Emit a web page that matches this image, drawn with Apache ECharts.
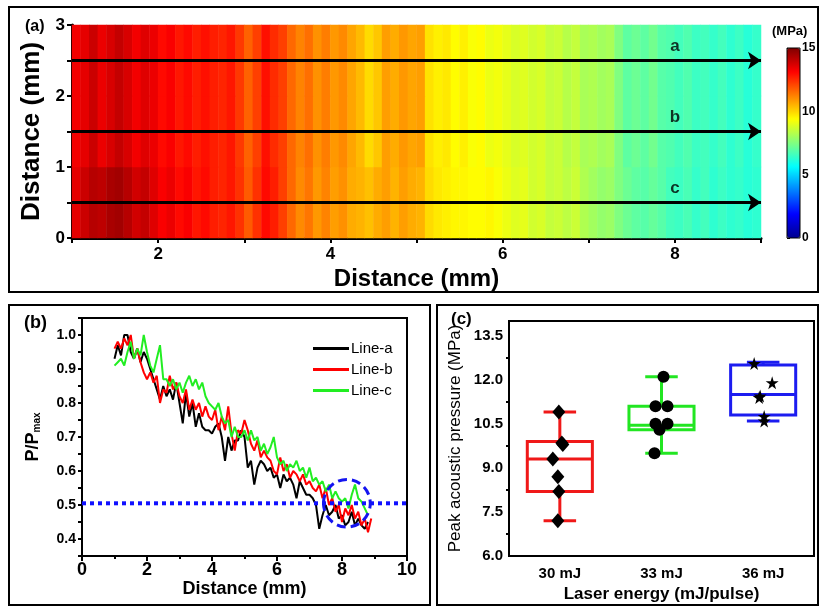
<!DOCTYPE html>
<html>
<head>
<meta charset="utf-8">
<script src="https://cdn.jsdelivr.net/npm/echarts@6/dist/echarts.min.js"></script>
<style>
html, body { margin: 0; padding: 0; background: #fff; }
#chart { width: 820px; height: 607px; }
</style>
</head>
<body>
<div id="chart"></div>
<script>
// (a) pressure map, MPa, one value per 0.1 mm column from 1.0 to 9.0 mm
var heatRows = ['0-1 mm', '1-2 mm', '2-3 mm'];
var heatUpper = [
    13.3, 13.5, 13.9, 13.4, 13.7, 14.0, 13.7, 13.3, 13.6, 13.4,
    13.0, 13.2, 12.8, 13.0, 12.7, 12.9, 12.7, 12.6, 12.8, 12.3,
    11.7, 12.2, 12.9, 12.5, 12.2, 11.6, 11.2, 11.5, 11.0, 11.3,
    10.9, 11.1, 10.7, 10.4, 9.9, 10.2, 10.8, 10.6, 10.9, 10.7,
    10.8, 9.8, 9.6, 9.7, 9.4, 9.6, 9.3, 9.4, 9.1, 9.2,
    9.0, 8.8, 8.9, 8.7, 8.8, 8.5, 8.6, 8.3, 8.5, 8.1,
    8.2, 8.0, 8.1, 7.5, 7.0, 7.2, 7.0, 7.3, 6.9, 6.8,
    6.6, 6.8, 6.5, 6.6, 6.4, 6.6, 6.3, 6.5, 6.2, 6.4
];
var heatLower = [
    13.5, 13.9, 14.2, 14.1, 14.4, 14.5, 14.2, 13.8, 14.0, 13.6,
    13.2, 13.4, 13.0, 13.2, 12.8, 13.0, 12.7, 12.6, 12.8, 12.4,
    11.8, 12.4, 13.0, 12.7, 12.2, 11.6, 11.1, 11.4, 10.9, 11.2,
    10.8, 11.0, 10.6, 10.5, 10.3, 10.6, 10.8, 10.5, 10.8, 10.6,
    10.5, 9.9, 9.7, 9.6, 9.5, 9.5, 9.4, 9.4, 9.5, 9.3,
    9.1, 8.9, 9.0, 8.7, 8.8, 8.5, 8.6, 8.4, 8.6, 8.2,
    8.0, 7.8, 7.9, 7.5, 7.2, 7.0, 6.9, 7.1, 6.9, 6.6,
    6.5, 6.7, 6.4, 6.6, 6.3, 6.5, 6.3, 6.4, 6.2, 6.3
];
var arrowRows = [2.5, 1.5, 0.5];
var arrowNames = ['a', 'b', 'c'];
var arrowLabelX = 8;

// (b) normalised pressure along the three lines
var lineDist = [
    1.0, 1.1, 1.2, 1.3, 1.4, 1.5, 1.6, 1.7, 1.8, 1.9,
    2.0, 2.1, 2.2, 2.3, 2.4, 2.5, 2.6, 2.7, 2.8, 2.9,
    3.0, 3.1, 3.2, 3.3, 3.4, 3.5, 3.6, 3.7, 3.8, 3.9,
    4.0, 4.1, 4.2, 4.3, 4.4, 4.5, 4.6, 4.7, 4.8, 4.9,
    5.0, 5.1, 5.2, 5.3, 5.4, 5.5, 5.6, 5.7, 5.8, 5.9,
    6.0, 6.1, 6.2, 6.3, 6.4, 6.5, 6.6, 6.7, 6.8, 6.9,
    7.0, 7.1, 7.2, 7.3, 7.4, 7.5, 7.6, 7.7, 7.8, 7.9,
    8.0, 8.1, 8.2, 8.3, 8.4, 8.5, 8.6, 8.7, 8.8, 8.9
];
var lineA = [
    0.93, 0.97, 0.94, 1.00, 1.00, 0.95, 0.93, 0.96, 0.92, 0.95,
    0.93, 0.90, 0.87, 0.84, 0.81, 0.85, 0.82, 0.84, 0.81, 0.86,
    0.80, 0.74, 0.83, 0.76, 0.80, 0.73, 0.77, 0.73, 0.72, 0.72,
    0.71, 0.73, 0.74, 0.70, 0.63, 0.70, 0.66, 0.69, 0.69, 0.72,
    0.70, 0.61, 0.63, 0.56, 0.61, 0.63, 0.62, 0.60, 0.61, 0.58,
    0.59, 0.55, 0.59, 0.57, 0.58, 0.56, 0.52, 0.57, 0.55, 0.53,
    0.53, 0.52, 0.50, 0.43, 0.47, 0.50, 0.47, 0.48, 0.50, 0.46,
    0.47, 0.44, 0.45, 0.48, 0.44, 0.46, 0.44, 0.43, 0.45
];
var lineB = [
    0.96, 0.98, 0.96, 0.99, 0.97, 1.00, 0.93, 0.96, 0.92, 0.89,
    0.87, 0.89, 0.86, 0.88, 0.80, 0.84, 0.83, 0.88, 0.84, 0.86,
    0.82, 0.80, 0.84, 0.78, 0.81, 0.78, 0.80, 0.76, 0.79, 0.76,
    0.75, 0.78, 0.72, 0.76, 0.72, 0.79, 0.71, 0.66, 0.72, 0.71,
    0.75, 0.72, 0.68, 0.66, 0.69, 0.64, 0.66, 0.64, 0.63, 0.60,
    0.59, 0.64, 0.60, 0.62, 0.58, 0.60, 0.59, 0.57, 0.59, 0.56,
    0.57, 0.55, 0.54, 0.56, 0.52, 0.55, 0.50, 0.52, 0.48, 0.50,
    0.45, 0.49, 0.47, 0.50, 0.46, 0.48, 0.44, 0.46, 0.42, 0.46
];
var lineC = [
    0.91, 0.92, 0.93, 0.91, 0.95, 0.98, 0.93, 0.96, 0.94, 1.00,
    0.95, 0.91, 0.89, 0.93, 0.97, 0.87, 0.87, 0.85, 0.87, 0.84,
    0.86, 0.83, 0.86, 0.88, 0.85, 0.87, 0.84, 0.86, 0.82, 0.80,
    0.79, 0.78, 0.80, 0.76, 0.74, 0.75, 0.70, 0.73, 0.70, 0.70,
    0.72, 0.69, 0.72, 0.69, 0.70, 0.66, 0.68, 0.65, 0.67, 0.70,
    0.64, 0.62, 0.63, 0.60, 0.62, 0.61, 0.63, 0.60, 0.61, 0.58,
    0.61, 0.57, 0.58, 0.56, 0.57, 0.54, 0.56, 0.52, 0.54, 0.52,
    0.51, 0.52, 0.49, 0.53, 0.56, 0.52, 0.51, 0.49, 0.47
];
var halfLevel = 0.505;
var circledX = [7.43, 8.87];
var circledY = [0.435, 0.575];

// (c) peak pressure per laser energy: [min, Q1, median, Q3, max] and raw points
var energies = ['30 mJ', '33 mJ', '36 mJ'];
var boxStats = [
    [7.2, 8.2, 9.3, 9.9, 10.9],
    [9.5, 10.3, 10.45, 11.1, 12.1],
    [10.6, 10.8, 11.5, 12.5, 12.6]
];
var pts30 = [10.9, 9.85, 9.8, 9.3, 8.7, 8.2, 7.2];
var pts33 = [12.1, 11.1, 11.1, 10.5, 10.5, 10.3, 9.5];
var pts36 = [12.55, 11.9, 11.45, 11.4, 10.75, 10.6];

// styling
var FONT = "'Liberation Sans', Arial, sans-serif";
var jet = ['#00008f', '#0000ff', '#0080ff', '#00ffff', '#80ff80', '#ffff00', '#ff8000', '#ff0000', '#800000'];
var boxColors = ['#f01818', '#22e622', '#1c1cf0'];
var jit30 = [-1, 2, 3, -7, -2, -1, -2];
var jit33 = [2, -6, 6, -6, 6, -2, -7];
var jit36 = [-9, 9, -3, -4, 1, 1];
var starPath = 'path://M50,0 L61,35 L98,35 L68,57 L79,91 L50,70 L21,91 L32,57 L2,35 L39,35 Z';

var heatData = [];
heatRows.forEach(function (r, ri) {
    var prof = ri === 0 ? heatLower : heatUpper;
    prof.forEach(function (v, i) { heatData.push([i, ri, v]); });
});

function pairs(xs, ys) {
    return ys.map(function (y, i) { return [xs[i], y]; });
}
function pointData(ci, vals, jit) {
    return vals.map(function (v, i) { return { value: [ci, v], symbolOffset: [jit[i], 0] }; });
}

function drawBox(params, api) {
    var i = api.value(0);
    var c = api.coord([i, api.value(3)]);
    var yMin = api.coord([i, api.value(1)])[1];
    var yQ1 = api.coord([i, api.value(2)])[1];
    var yQ3 = api.coord([i, api.value(4)])[1];
    var yMax = api.coord([i, api.value(5)])[1];
    var bw = api.size([1, 0])[0] * 0.64;
    var cap = bw * 0.5;
    var x = c[0];
    var st = { stroke: boxColors[params.dataIndex], lineWidth: 3, fill: 'none' };
    return {
        type: 'group',
        children: [
            { type: 'rect', shape: { x: x - bw / 2, y: yQ3, width: bw, height: yQ1 - yQ3 }, style: st },
            { type: 'line', shape: { x1: x - bw / 2, y1: c[1], x2: x + bw / 2, y2: c[1] }, style: st },
            { type: 'line', shape: { x1: x, y1: yQ3, x2: x, y2: yMax }, style: st },
            { type: 'line', shape: { x1: x, y1: yQ1, x2: x, y2: yMin }, style: st },
            { type: 'line', shape: { x1: x - cap / 2, y1: yMax, x2: x + cap / 2, y2: yMax }, style: st },
            { type: 'line', shape: { x1: x - cap / 2, y1: yMin, x2: x + cap / 2, y2: yMin }, style: st }
        ]
    };
}

function drawRing(params, api) {
    var p0 = api.coord([api.value(0), api.value(2)]);
    var p1 = api.coord([api.value(1), api.value(3)]);
    return {
        type: 'ellipse',
        shape: { cx: (p0[0] + p1[0]) / 2, cy: (p0[1] + p1[1]) / 2, rx: Math.abs(p1[0] - p0[0]) / 2, ry: Math.abs(p1[1] - p0[1]) / 2 },
        style: { stroke: '#1414f0', lineWidth: 3, fill: 'none', lineDash: [9, 5] }
    };
}

var blackAxis = { lineStyle: { color: '#000', width: 2 } };
var lab = function (size) {
    return { color: '#000', fontSize: size, fontWeight: 'bold', fontFamily: FONT };
};

var chart = echarts.init(document.getElementById('chart'));
var option = {
    animation: false,
    backgroundColor: '#fff',
    textStyle: { fontFamily: FONT },
    grid: [
        { left: 72, top: 25, width: 689, height: 213 },
        { left: 82, top: 318, width: 325, height: 238, show: true, borderColor: '#000', borderWidth: 2 },
        { left: 509, top: 321, width: 305, height: 235, show: true, borderColor: '#000', borderWidth: 2 },
        { left: 787, top: 48, width: 13, height: 190 }
    ],
    visualMap: {
        type: 'continuous', seriesIndex: 0, min: 0, max: 15,
        inRange: { color: jet },
        left: 787, top: 48, itemWidth: 13, itemHeight: 190, padding: 0,
        calculable: false, hoverLink: false
    },
    legend: {
        data: ['Line-a', 'Line-b', 'Line-c'],
        left: 308, top: 336, orient: 'vertical', icon: 'rect',
        itemWidth: 36, itemHeight: 3, itemGap: 6,
        textStyle: { color: '#000', fontSize: 15, fontFamily: FONT, padding: [0, 0, 0, -3] }
    },
    xAxis: [
        { gridIndex: 0, type: 'category', data: heatUpper.map(function (v, i) { return String(i); }), show: false },
        {
            gridIndex: 0, type: 'value', min: 1, max: 9, interval: 1, position: 'bottom',
            axisLine: { lineStyle: { color: '#000', width: 3 } },
            axisTick: { length: 5, lineStyle: { color: '#000', width: 2 } },
            axisLabel: Object.assign(lab(17), { margin: 8, formatter: function (v) { return v % 2 === 0 ? String(v) : ''; } }),
            splitLine: { show: false },
            name: 'Distance (mm)', nameLocation: 'middle', nameGap: 29, nameTextStyle: lab(24)
        },
        {
            gridIndex: 1, type: 'value', min: 0, max: 10, interval: 2,
            axisLine: blackAxis,
            axisTick: { length: 5, lineStyle: { color: '#000', width: 2 } },
            minorTick: { show: true, splitNumber: 2, length: 3, lineStyle: { color: '#000', width: 2 } },
            axisLabel: Object.assign(lab(18), { margin: 5 }),
            splitLine: { show: false },
            name: 'Distance (mm)', nameLocation: 'middle', nameGap: 21, nameTextStyle: lab(18)
        },
        {
            gridIndex: 2, type: 'category', data: energies,
            axisLine: blackAxis, axisTick: { show: false },
            axisLabel: Object.assign(lab(15), { margin: 10 }),
            name: 'Laser energy (mJ/pulse)', nameLocation: 'middle', nameGap: 30, nameTextStyle: lab(17)
        },
        { gridIndex: 3, type: 'value', show: false }
    ],
    yAxis: [
        { gridIndex: 0, type: 'category', data: heatRows, show: false },
        {
            gridIndex: 0, type: 'value', min: 0, max: 3, interval: 0.5, position: 'left',
            axisLine: { lineStyle: { color: '#000', width: 3 } },
            axisTick: { length: 5, lineStyle: { color: '#000', width: 2 } },
            axisLabel: Object.assign(lab(17), { margin: 7, formatter: function (v) { return v % 1 === 0 ? String(v) : ''; } }),
            splitLine: { show: false },
            name: 'Distance (mm)', nameLocation: 'middle', nameGap: 24, nameTextStyle: lab(26)
        },
        {
            gridIndex: 1, type: 'value', min: 0.35, max: 1.05, interval: 0.05,
            axisLine: blackAxis,
            axisTick: { length: 4, lineStyle: { color: '#000', width: 2 } },
            axisLabel: Object.assign(lab(14), {
                margin: 6,
                formatter: function (v) { return Math.abs(v * 10 - Math.round(v * 10)) < 1e-6 ? v.toFixed(1) : ''; }
            }),
            splitLine: { show: false },
            name: 'P/P{sub|max}', nameLocation: 'middle', nameGap: 40,
            nameTextStyle: Object.assign(lab(18), { rich: { sub: { fontSize: 10, fontFamily: FONT, color: '#000', verticalAlign: 'bottom', padding: [8, 0, 0, 0] } } })
        },
        {
            gridIndex: 2, type: 'value', min: 6, max: 14, interval: 1.5,
            axisLine: blackAxis,
            axisTick: { length: 5, lineStyle: { color: '#000', width: 2 } },
            minorTick: { show: true, splitNumber: 2, length: 3, lineStyle: { color: '#000', width: 2 } },
            axisLabel: Object.assign(lab(15), { margin: 6, showMaxLabel: false, formatter: function (v) { return v.toFixed(1); } }),
            splitLine: { show: false },
            name: 'Peak acoustic pressure (MPa)', nameLocation: 'middle', nameGap: 45,
            nameTextStyle: { color: '#000', fontSize: 17, fontFamily: FONT }
        },
        {
            gridIndex: 3, type: 'value', min: 0, max: 15, interval: 5, position: 'right',
            axisLine: { show: false },
            axisTick: { length: 3, lineStyle: { color: '#000', width: 1 } },
            axisLabel: Object.assign(lab(12), { margin: 2 }),
            splitLine: { show: false }
        }
    ],
    series: [
        {
            type: 'heatmap', xAxisIndex: 0, yAxisIndex: 0, data: heatData,
            progressive: 0, emphasis: { disabled: true }
        },
        {
            type: 'scatter', xAxisIndex: 1, yAxisIndex: 1, symbolSize: 0, silent: true,
            data: arrowRows.map(function (y, i) { return { value: [arrowLabelX, y], name: arrowNames[i] }; }),
            label: { show: true, position: 'top', distance: 6, formatter: '{b}', color: '#000', fontSize: 17, fontWeight: 'bold', fontFamily: FONT },
            markLine: {
                silent: true, symbol: ['none', 'arrow'], symbolSize: 13,
                lineStyle: { color: '#000', width: 3, type: 'solid' },
                label: { show: false },
                data: arrowRows.map(function (y) { return [{ coord: [1, y] }, { coord: [9, y] }]; })
            }
        },
        {
            name: 'Line-a', type: 'line', xAxisIndex: 2, yAxisIndex: 2, data: pairs(lineDist, lineA),
            showSymbol: false, symbol: 'none', lineStyle: { color: '#000', width: 2 }, itemStyle: { color: '#000' }
        },
        {
            name: 'Line-b', type: 'line', xAxisIndex: 2, yAxisIndex: 2, data: pairs(lineDist, lineB),
            showSymbol: false, symbol: 'none', lineStyle: { color: '#ff0000', width: 2 }, itemStyle: { color: '#ff0000' }
        },
        {
            name: 'Line-c', type: 'line', xAxisIndex: 2, yAxisIndex: 2, data: pairs(lineDist, lineC),
            showSymbol: false, symbol: 'none', lineStyle: { color: '#22ee22', width: 2 }, itemStyle: { color: '#22ee22' }
        },
        {
            type: 'line', xAxisIndex: 2, yAxisIndex: 2, data: [[0, halfLevel], [10, halfLevel]],
            symbol: 'none', silent: true, lineStyle: { color: '#1010ff', width: 4, type: [4, 4] }
        },
        {
            type: 'custom', xAxisIndex: 2, yAxisIndex: 2, silent: true,
            data: [[circledX[0], circledX[1], circledY[0], circledY[1]]],
            encode: { x: [0, 1], y: [2, 3] },
            renderItem: drawRing, z: 5
        },
        {
            type: 'custom', xAxisIndex: 3, yAxisIndex: 3,
            data: boxStats.map(function (b, i) { return [i].concat(b); }),
            encode: { x: 0, y: [1, 2, 3, 4, 5] },
            renderItem: drawBox
        },
        {
            type: 'scatter', xAxisIndex: 3, yAxisIndex: 3, symbol: 'diamond', symbolSize: [13, 15],
            itemStyle: { color: '#000', opacity: 1 }, data: pointData(0, pts30, jit30), z: 4
        },
        {
            type: 'scatter', xAxisIndex: 3, yAxisIndex: 3, symbol: 'circle', symbolSize: 12,
            itemStyle: { color: '#000', opacity: 1 }, data: pointData(1, pts33, jit33), z: 4
        },
        {
            type: 'scatter', xAxisIndex: 3, yAxisIndex: 3, symbol: starPath, symbolSize: 13,
            itemStyle: { color: '#000', opacity: 1 }, data: pointData(2, pts36, jit36), z: 4
        }
    ],
    graphic: [
        { type: 'rect', shape: { x: 9, y: 7, width: 809, height: 285 }, style: { stroke: '#000', lineWidth: 2, fill: 'none' }, silent: true },
        { type: 'rect', shape: { x: 9, y: 305, width: 421, height: 300 }, style: { stroke: '#000', lineWidth: 2, fill: 'none' }, silent: true },
        { type: 'rect', shape: { x: 437, y: 305, width: 381, height: 300 }, style: { stroke: '#000', lineWidth: 2, fill: 'none' }, silent: true },
        { type: 'rect', shape: { x: 787, y: 48, width: 13, height: 190 }, style: { stroke: '#000', lineWidth: 1, fill: 'none' }, silent: true, z: 100 },
        { type: 'text', x: 25, y: 19, style: { text: '(a)', fill: '#000', font: 'bold 16px ' + FONT } },
        { type: 'text', x: 772, y: 25, style: { text: '(MPa)', fill: '#000', font: 'bold 13px ' + FONT } },
        { type: 'text', x: 24, y: 314, style: { text: '(b)', fill: '#000', font: 'bold 18px ' + FONT } },
        { type: 'text', x: 451, y: 311, style: { text: '(c)', fill: '#000', font: 'bold 17px ' + FONT } }
    ]
};
chart.setOption(option);
</script>
</body>
</html>
